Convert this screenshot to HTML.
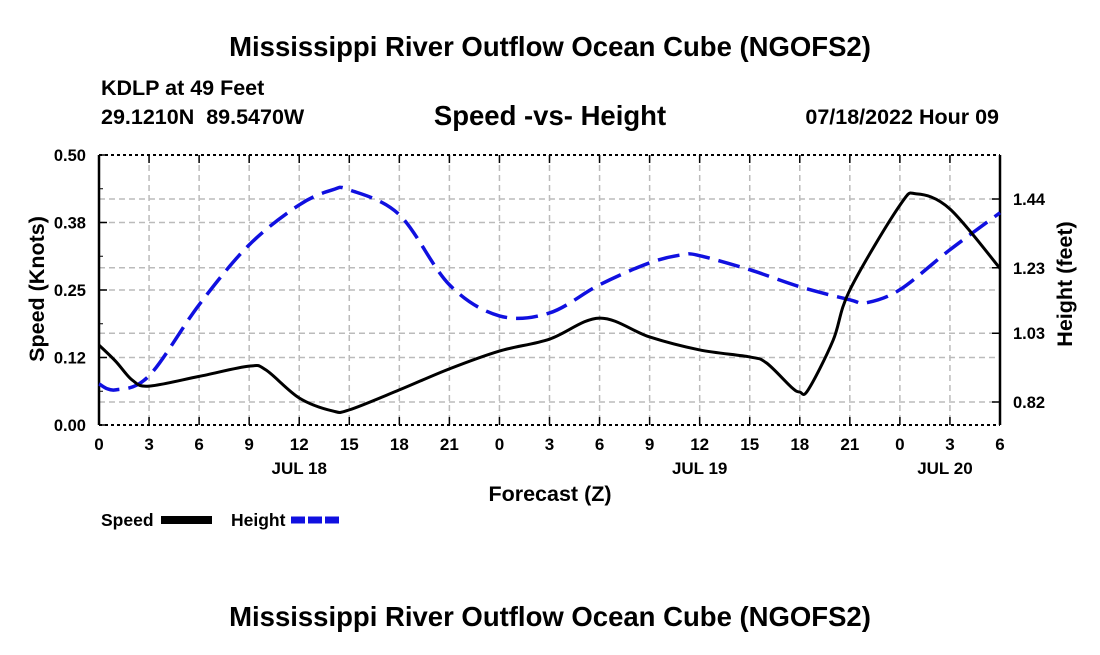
<!DOCTYPE html>
<html><head><meta charset="utf-8"><style>
body{margin:0;background:#fff;}
svg text{font-family:"Liberation Sans",Arial,sans-serif;font-weight:bold;fill:#000;}
</style></head><body>
<svg width="1100" height="650" viewBox="0 0 1100 650">
<text x="550" y="56" font-size="27.5" text-anchor="middle">Mississippi River Outflow Ocean Cube (NGOFS2)</text>
<text x="101" y="95" font-size="21.5">KDLP at 49 Feet</text>
<text x="101" y="124" font-size="21.5">29.1210N&#160;&#160;89.5470W</text>
<text x="550" y="125" font-size="27.5" text-anchor="middle">Speed -vs- Height</text>
<text x="999" y="124" font-size="21.5" text-anchor="end">07/18/2022 Hour 09</text>
<g id="grid"></g>
<g id="axes"></g>
<g id="series"></g>
<text x="550" y="501" font-size="21.5" text-anchor="middle">Forecast (Z)</text>
<text transform="translate(44,289) rotate(-90)" font-size="21.5" text-anchor="middle">Speed (Knots)</text>
<text transform="translate(1072,284) rotate(-90)" font-size="21.5" text-anchor="middle">Height (feet)</text>
<g><text x="101" y="526" font-size="17.5">Speed</text><rect x="161" y="516" width="51" height="8" fill="#000"/></g>
<g><text x="231" y="526" font-size="17.5">Height</text><line x1="291" x2="342" y1="520" y2="520" stroke="#1010e0" stroke-width="7" stroke-dasharray="14,3"/></g>
<text x="550" y="626" font-size="27.5" text-anchor="middle">Mississippi River Outflow Ocean Cube (NGOFS2)</text>
</svg>
<script>
const hours=[0,3,6,9,12,15,18,21,24,27,30,33,36,39,42,45,48,51,54];
const xTickLabels=["0","3","6","9","12","15","18","21","0","3","6","9","12","15","18","21","0","3","6"];
const dayLabels=["JUL 18","JUL 19","JUL 20"];
const dayHours=[12,36,50.7];
const speedTicks=[0,0.125,0.25,0.375,0.5];
const speedTickLabels=["0.00","0.12","0.25","0.38","0.50"];
const heightTicks=[0.82,1.03,1.23,1.44];
const speedHours=[0,1,2,3,6,9,10,12,14,15,18,21,24,27,30,33,36,39,40,41.5,42,42.5,44,45,48,49,51,54];
const speedValues=[0.148,0.118,0.083,0.072,0.09,0.109,0.102,0.05,0.026,0.028,0.065,0.104,0.137,0.159,0.198,0.163,0.139,0.126,0.115,0.07,0.061,0.065,0.157,0.25,0.407,0.428,0.4,0.29];
const heightHours=[0,1,3,6,9,12,14,15,18,21,24,27,30,33,35,36,39,42,45,46,48,51,54];
const heightValues=[0.875,0.857,0.9,1.117,1.3,1.422,1.468,1.468,1.392,1.178,1.083,1.092,1.178,1.245,1.27,1.267,1.224,1.172,1.132,1.123,1.163,1.285,1.398];
const L=99,R=1000,T=155,B=425;
const xs=h=>L+(h/54)*(R-L);
const ys=v=>B-(v/0.5)*(B-T);
const yh=v=>402-(v-0.82)*327.4;
const NS="http://www.w3.org/2000/svg";
function mk(p,tag,at){const e=document.createElementNS(NS,tag);for(const k in at)e.setAttribute(k,at[k]);p.appendChild(e);return e;}
const g=document.getElementById('grid'),a=document.getElementById('axes'),s=document.getElementById('series');
hours.forEach((h,i)=>{
 if(i>0&&i<hours.length-1){const l=mk(g,'line',{x1:xs(h),x2:xs(h),y1:T,y2:B,stroke:'#bbb','stroke-width':1.5,'stroke-dasharray':'6,4'});
 
 }
 mk(a,'line',{x1:xs(h),x2:xs(h),y1:B,y2:B-8,stroke:'#000','stroke-width':1.5});
 mk(a,'line',{x1:xs(h),x2:xs(h),y1:T,y2:T+8,stroke:'#000','stroke-width':1.5});
 const t=mk(a,'text',{x:xs(h),y:B+25,'font-size':17,'text-anchor':'middle'});t.textContent=xTickLabels[i];
 
 
});
dayLabels.forEach((d,i)=>{const t=mk(a,'text',{x:xs(dayHours[i]),y:B+49,'font-size':17,'text-anchor':'middle'});t.textContent=d;
 
 });
speedTicks.forEach((v,i)=>{
 if(i>0&&i<speedTicks.length-1){const l=mk(g,'line',{x1:L,x2:R,y1:ys(v),y2:ys(v),stroke:'#bbb','stroke-width':1.5,'stroke-dasharray':'6,4'});
 
 }
 mk(a,'line',{x1:L,x2:L+8,y1:ys(v),y2:ys(v),stroke:'#000','stroke-width':1.5});
 const t=mk(a,'text',{x:L-13,y:ys(v)+6,'font-size':16.5,'text-anchor':'end'});t.textContent=speedTickLabels[i];
 
 
});
for(let v=0.0625;v<0.5;v+=0.125)mk(a,'line',{x1:L,x2:L+4,y1:ys(v),y2:ys(v),stroke:'#000','stroke-width':1});
heightTicks.forEach(v=>{
 const l=mk(g,'line',{x1:L,x2:R,y1:yh(v),y2:yh(v),stroke:'#bbb','stroke-width':1.5,'stroke-dasharray':'6,4'});
 
 
 mk(a,'line',{x1:R-8,x2:R,y1:yh(v),y2:yh(v),stroke:'#000','stroke-width':1.5});
 const t=mk(a,'text',{x:R+13,y:yh(v)+6,'font-size':16.5});t.textContent=v.toFixed(2);
 
 
});
mk(a,'line',{x1:L,x2:L,y1:T,y2:B,stroke:'#000','stroke-width':2.5});
mk(a,'line',{x1:R,x2:R,y1:T,y2:B,stroke:'#000','stroke-width':2.5});
mk(a,'line',{x1:L,x2:R,y1:T,y2:T,stroke:'#000','stroke-width':2,'stroke-dasharray':'3,3'});
mk(a,'line',{x1:L,x2:R,y1:B,y2:B,stroke:'#000','stroke-width':2,'stroke-dasharray':'3,3'});
function path(px,py){let d=`M${px[0]},${py[0]}`;for(let i=0;i<px.length-1;i++){const p0=i?i-1:i,p3=i+2<px.length?i+2:i+1;
 const c1x=px[i]+(px[i+1]-px[p0])/6,c1y=py[i]+(py[i+1]-py[p0])/6,c2x=px[i+1]-(px[p3]-px[i])/6,c2y=py[i+1]-(py[p3]-py[i])/6;
 d+=` C${c1x},${c1y} ${c2x},${c2y} ${px[i+1]},${py[i+1]}`;}return d;}
const hp=mk(s,'path',{d:path(heightHours.map(xs),heightValues.map(yh)),fill:'none',stroke:'#1010e0','stroke-width':3.5,'stroke-dasharray':'22,9'});


const sp=mk(s,'path',{d:path(speedHours.map(xs),speedValues.map(ys)),fill:'none',stroke:'#000','stroke-width':3});


</script>
</body></html>
